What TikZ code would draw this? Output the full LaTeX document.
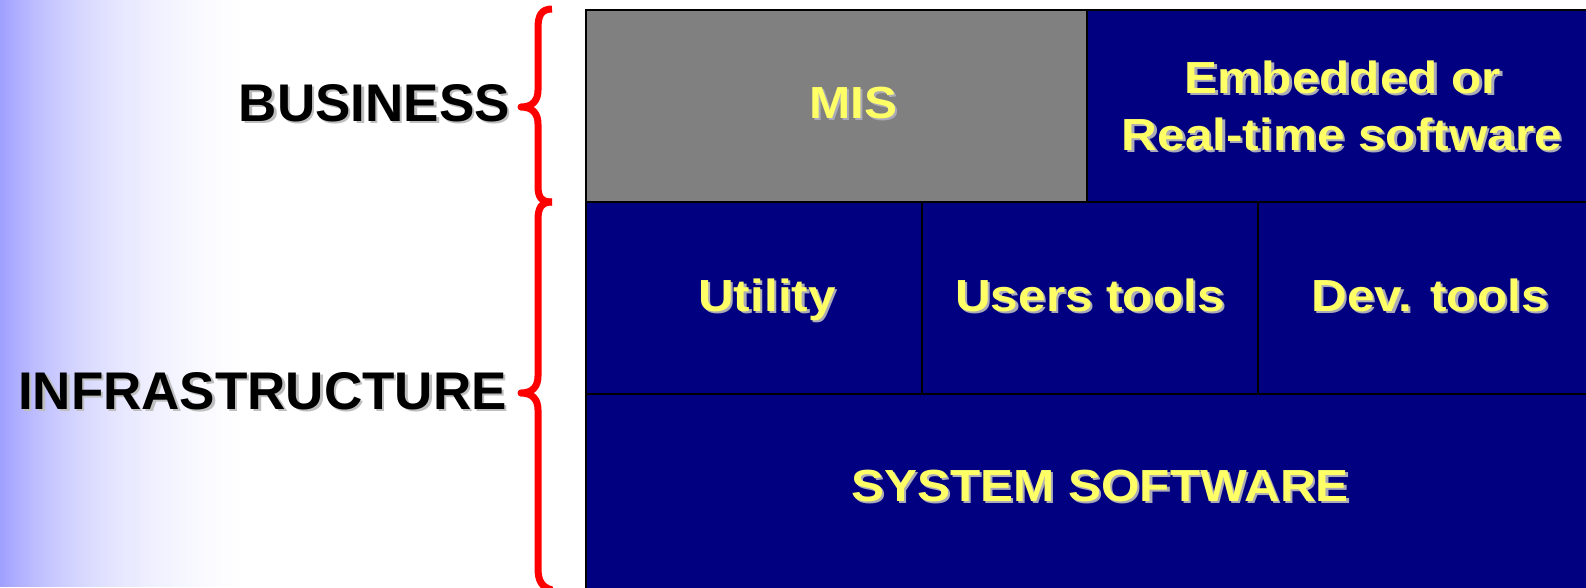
\documentclass[tikz,border=0pt]{standalone}
\usepackage{fontspec}
\setmainfont{Liberation Sans}
\newfontfamily\boxfont[FakeStretch=1.1]{Liberation Sans}
\usetikzlibrary{calc}

\definecolor{navy}{RGB}{0,0,128}
\definecolor{tilegray}{RGB}{128,128,128}
\definecolor{lemon}{RGB}{255,255,102}
\definecolor{bracered}{RGB}{255,0,0}
\definecolor{lemonshadow}{RGB}{170,170,184}
\definecolor{inkshadow}{RGB}{190,190,190}
\definecolor{haze}{RGB}{160,160,255}

% text with a soft drop shadow: name, position, style, shadow colour, text
\newcommand{\castlabel}[5]{%
  \node[#3, text=#4] at ($(#2)+(2.5,2.5)$) {#5};
  \node[#3] (#1) at (#2) {#5};}

\tikzset{
  tile/.style={draw=black, line width=1.5pt, inner sep=0pt, outer sep=0pt, anchor=north west},
  boxtext/.style={font=\boxfont\bfseries\fontsize{45}{54}\selectfont, text=lemon,
                  anchor=base, inner sep=0pt},
  sidetext/.style={font=\bfseries\fontsize{53}{62}\selectfont, text=black,
                   anchor=base east, inner sep=0pt},
  bracepen/.style={draw=bracered, line width=7pt, line join=round}
}

\begin{document}
\begin{tikzpicture}[x=1pt, y=-1pt]
  \useasboundingbox (0,0) rectangle (1586,587);
  \clip (0,0) rectangle (1586,587);

  % white page with a blue haze fading out from the left edge
  \fill[white] (0,0) rectangle (1586,587);
  \foreach \x in {0,3,...,249} {
    \pgfmathsetmacro\f{max(0,100*(exp(-\x/100)-0.09*\x/240))}
    \fill[haze!\f!white] (\x,0) rectangle (\x+3.6,587);
  }

  % layered tiles
  \node[tile, fill=tilegray, minimum width=501pt, minimum height=192pt] (mis) at (586,10) {};
  \node[tile, fill=navy, minimum width=520pt, minimum height=192pt] (embedded) at (1087,10) {};
  \node[tile, fill=navy, minimum width=336pt, minimum height=192pt] (utility) at (586,202) {};
  \node[tile, fill=navy, minimum width=336pt, minimum height=192pt] (userstools) at (922,202) {};
  \node[tile, fill=navy, minimum width=349pt, minimum height=192pt] (devtools) at (1258,202) {};
  \node[tile, fill=navy, minimum width=1021pt, minimum height=210pt] (system) at (586,394) {};

  % tile captions
  \castlabel{mislabel}{853,118}{boxtext}{lemonshadow}{MIS}
  \castlabel{emblabel}{1343,93}{boxtext}{lemonshadow}{Embedded or}
  \castlabel{rtlabel}{1342,150}{boxtext}{lemonshadow}{Real-time software}
  \castlabel{utillabel}{767,311}{boxtext}{lemonshadow}{Utility}
  \castlabel{userlabel}{1090,311}{boxtext}{lemonshadow}{Users tools}
  \castlabel{devlabel}{1430,311}{boxtext}{lemonshadow}{Dev. tools}
  \castlabel{syslabel}{1100,501}{boxtext}{lemonshadow}{SYSTEM SOFTWARE}

  % layer names
  \castlabel{business}{510,121}{sidetext}{inkshadow}{BUSINESS}
  \castlabel{infra}{507,409}{sidetext}{inkshadow}{INFRASTRUCTURE}

  % curly braces grouping the layers
  \draw[bracepen] (552,9) .. controls (541,9) and (538,16) .. (538,28)
    -- (538,90) .. controls (538,100) and (533,107) .. (521,107)
    .. controls (533,107) and (538,114) .. (538,124)
    -- (538,186) .. controls (538,197) and (541,202) .. (552,202);
  \draw[bracepen] (552,202) .. controls (541,202) and (538,208) .. (538,220)
    -- (538,376) .. controls (538,386) and (533,393) .. (521,393)
    .. controls (533,393) and (538,400) .. (538,410)
    -- (538,568) .. controls (538,580) and (541,587) .. (552,590);
\end{tikzpicture}
\end{document}
